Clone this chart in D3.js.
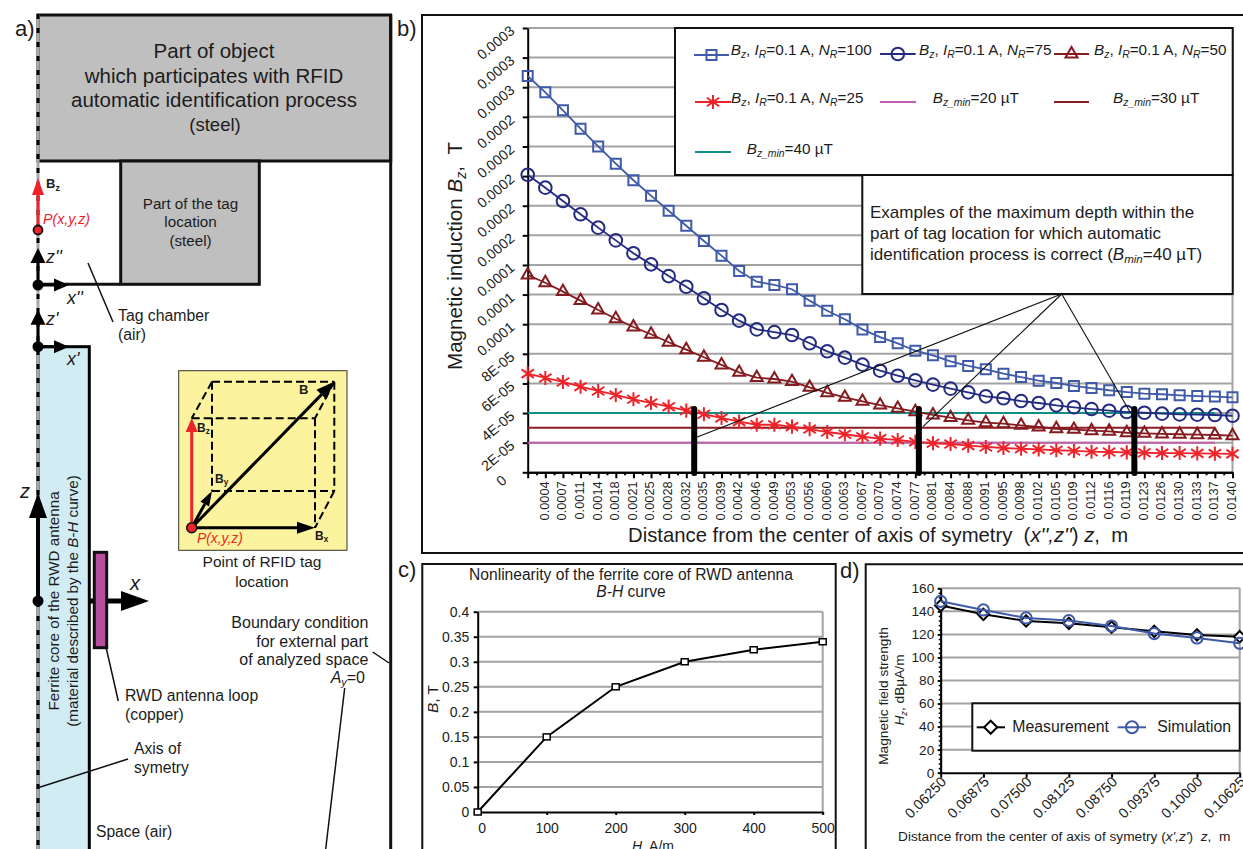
<!DOCTYPE html>
<html><head><meta charset="utf-8">
<script src="https://cdn.jsdelivr.net/npm/d3@7/dist/d3.min.js"></script>
<style>
html,body{margin:0;padding:0;background:#fff;overflow:hidden}
svg{display:block;font-family:"Liberation Sans",Arial,sans-serif;fill:#1c1c1c}
</style></head><body><svg id="c" width="1243" height="849"></svg>
<script>
// ---------- panel b data (values in units of 1e-5 T) ----------
const zLabels=["","0.0004","0.0007","0.0011","0.0014","0.0018","0.0021","0.0025","0.0028","0.0032","0.0035","0.0039","0.0042","0.0046","0.0049","0.0053","0.0056","0.0060","0.0063","0.0067","0.0070","0.0074","0.0077","0.0081","0.0084","0.0088","0.0091","0.0095","0.0098","0.0102","0.0105","0.0109","0.0112","0.0116","0.0119","0.0123","0.0126","0.0130","0.0133","0.0137","0.0140"];
const bTickLabels=["0","2E-05","4E-05","6E-05","8E-05","0.0001","0.0001","0.0001","0.0002","0.0002","0.0002","0.0002","0.0002","0.0003","0.0003","0.0003"];
const nr100=[26.76,25.66,24.44,23.2,22.0,20.84,19.72,18.68,17.66,16.65,15.62,14.63,13.59,12.87,12.65,12.36,11.59,10.91,10.33,9.65,9.13,8.71,8.21,7.9,7.49,7.18,6.95,6.66,6.43,6.19,6.03,5.83,5.69,5.54,5.42,5.31,5.27,5.2,5.15,5.11,5.06];
const nr75=[20.09,19.22,18.32,17.42,16.52,15.66,14.79,14.04,13.25,12.53,11.75,10.96,10.24,9.65,9.47,9.27,8.71,8.17,7.74,7.27,6.86,6.52,6.21,5.92,5.65,5.4,5.13,5.0,4.81,4.68,4.52,4.39,4.27,4.16,4.07,4.02,3.96,3.91,3.89,3.87,3.82];
const nr50=[13.32,12.8,12.2,11.59,10.96,10.37,9.81,9.32,8.78,8.28,7.77,7.25,6.75,6.39,6.3,6.12,5.74,5.37,5.06,4.79,4.54,4.32,4.09,3.87,3.69,3.51,3.35,3.28,3.17,3.06,2.94,2.9,2.81,2.77,2.67,2.63,2.59,2.57,2.54,2.52,2.47];
const nr25=[6.66,6.37,6.1,5.78,5.49,5.22,4.93,4.68,4.43,4.16,3.92,3.67,3.42,3.21,3.21,3.08,2.92,2.72,2.57,2.4,2.27,2.18,2.05,1.96,1.91,1.8,1.71,1.64,1.59,1.55,1.49,1.44,1.39,1.37,1.35,1.32,1.3,1.3,1.28,1.26,1.24];
const bzMin=[2,3,4];
const depthMarks=[9.45,22.2,34.43]; // category positions of the thick bars
// ---------- panel c data ----------
const hValues=[0,100,200,300,400,500];
const bValues=[0,0.15,0.25,0.3,0.324,0.34];
const cYTicks=[0,0.05,0.1,0.15,0.2,0.25,0.3,0.35,0.4];
// ---------- panel d data ----------
const dLabels=["0.06250","0.06875","0.07500","0.08125","0.08750","0.09375","0.10000","0.10625"];
const measurement=[145,137.4,131.7,129.6,126.2,122.7,119.5,118];
const simulation=[148.7,141.2,134.3,132,127.3,120.7,116.9,112.3];
const dYTicks=[0,20,40,60,80,100,120,140,160];

const svg=d3.select("#c");
const I="i",S="s",NB="\u00a0";
function rich(g,x,y,parts,o={}){
  const t=g.append("text").attr("x",x).attr("y",y).attr("font-size",o.size||14);
  if(o.anchor)t.attr("text-anchor",o.anchor);
  if(o.fill)t.style("fill",o.fill);
  if(o.bold)t.attr("font-weight","bold");
  if(o.italic)t.attr("font-style","italic");
  if(o.rot!==undefined)t.attr("transform",`rotate(${o.rot} ${x} ${y})`);
  let pend=0; const fs=o.size||14;
  (Array.isArray(parts)?parts:[parts]).forEach(p=>{
    const [txt,f]=Array.isArray(p)?p:[p,""];
    const ts=t.append("tspan").text(txt);
    let dy=pend; pend=0;
    if(f&&f.includes(I))ts.attr("font-style","italic");
    if(f&&f.includes(S)){const d=fs*0.2;dy+=d;pend=-d;ts.attr("font-size",fs*0.68);}
    if(dy)ts.attr("dy",dy);
  });
  return t;
}
function line(g,x1,y1,x2,y2,c="#111",w=1.5,dash){
  const l=g.append("line").attr("x1",x1).attr("y1",y1).attr("x2",x2).attr("y2",y2).attr("stroke",c).attr("stroke-width",w);
  if(dash)l.attr("stroke-dasharray",dash);return l;
}
function arrow(g,x1,y1,x2,y2,c,w,hl,hw){
  const a=Math.atan2(y2-y1,x2-x1),bx=x2-hl*Math.cos(a),by=y2-hl*Math.sin(a);
  line(g,x1,y1,bx,by,c,w);
  const nx=-Math.sin(a)*hw/2,ny=Math.cos(a)*hw/2;
  g.append("path").attr("d",`M${x2},${y2}L${bx+nx},${by+ny}L${bx-nx},${by-ny}Z`).style("fill",c);
}
function rect(g,x,y,w,h,fill,stroke,sw){
  return g.append("rect").attr("x",x).attr("y",y).attr("width",w).attr("height",h).attr("fill",fill).attr("stroke",stroke).attr("stroke-width",sw);
}
function styleAxis(a,w=2){
  a.select(".domain").attr("stroke","#000").attr("stroke-width",w);
  a.selectAll(".tick line").attr("stroke","#000").attr("stroke-width",w);
  a.selectAll("text").style("fill","#1c1c1c");
  a.attr("font-family",null);
}
const star={draw(ctx,size){const r=Math.sqrt(size)/2;
  ctx.moveTo(0,-r);ctx.lineTo(0,r);
  const dx=r*0.87,dy=r*0.6;
  ctx.moveTo(-dx,-dy);ctx.lineTo(dx,dy);ctx.moveTo(-dx,dy);ctx.lineTo(dx,-dy);}};
const diamond={draw(ctx,size){const r=Math.sqrt(size)/2;
  ctx.moveTo(0,-r);ctx.lineTo(r,0);ctx.lineTo(0,r);ctx.lineTo(-r,0);ctx.closePath();}};

// ---------- panel a ----------
const a=svg.append("g");
rich(a,15,36,"a)",{size:22});
rect(a,38,346.7,51.3,510,"#d2ecf4","#000",3);
rect(a,38,15,352.7,146,"#bfbfbf","#111",3);
rect(a,120.7,161,138.6,123.3,"#bfbfbf","#111",3);
line(a,390.7,15,390.7,849,"#111",3);
line(a,38,284.3,120,284.3,"#111",3);
// symmetry axis
line(a,38,14,38,849,"#a9a9a9",3);
line(a,38,14,38,849,"#000",3,"5 9");
// top text
["Part of object","which participates with RFID","automatic identification process"].forEach((t,i)=>rich(a,214,[58,83,107][i],t,{size:20.5,anchor:"middle"}));
rich(a,215,131,"(steel)",{size:18.5,anchor:"middle"});
["Part of the tag","location","(steel)"].forEach((t,i)=>rich(a,190.5,[209,227,246][i],t,{size:15.2,anchor:"middle"}));
// red point
arrow(a,38,230,38,178,"#ee2329",3,17,12);
a.append("circle").attr("cx",38).attr("cy",230).attr("r",4.5).attr("fill","#ee2329").attr("stroke","#111").attr("stroke-width",1.8);
rich(a,46,188,[["B",""],["z",S]],{size:13,bold:true});
rich(a,43,224,"P(x,y,z)",{size:14.2,italic:true,fill:"#ee2329"});
// coordinate systems
[[285,"z''","x''"],[346.7,"z'","x'"]].forEach(([y,zt,xt])=>{
  arrow(a,38,y,38,y-37,"#000",3,15,15);
  arrow(a,38,y,69,y,"#000",3,15,13);
  a.append("circle").attr("cx",38).attr("cy",y).attr("r",5.5).style("fill","#000");
  rich(a,46,y-22,zt,{size:18,italic:true});
  rich(a,67,y+18.5,xt,{size:18,italic:true});
});
line(a,88,263,113,322,"#111",1.5);
rich(a,118,321,"Tag chamber",{size:15.8});
rich(a,118,340,"(air)",{size:15.8});
// yellow cube
rect(a,178.7,370.7,168.3,179.6,"#fbf39e","#333",1);
const Px=191.7,Py=527.7,dashC="8 4";
[[212,381.7,334.3,381.7],[191.7,418.3,315,418.3],[212,381.7,191.7,418.3],[334.3,381.7,315,418.3],[212,381.7,212,491],[315,418.3,315,527.7],[334.3,381.7,334.3,491],[212,491,334.3,491],[334.3,491,315,527.7]]
 .forEach(s=>line(a,s[0],s[1],s[2],s[3],"#000",2,dashC));
arrow(a,Px,Py,334,381.7,"#000",3,18,14);
arrow(a,Px,Py,315,Py,"#000",3,18,12);
arrow(a,Px,Py,212,491,"#000",3,15,10);
arrow(a,Px,Py,Px,418,"#ee2329",3,14,12);
a.append("circle").attr("cx",Px).attr("cy",Py).attr("r",5).attr("fill","#ee2329").attr("stroke","#111").attr("stroke-width",1.5);
rich(a,299,394,"B",{size:13,bold:true});
rich(a,197,432,[["B",""],["z",S]],{size:12,bold:true});
rich(a,215,483,[["B",""],["y",S]],{size:12,bold:true});
rich(a,315,540,[["B",""],["x",S]],{size:12,bold:true});
rich(a,197,543,"P(x,y,z)",{size:13.8,italic:true,fill:"#ee2329"});
rich(a,262,567,"Point of RFID tag",{size:15.5,anchor:"middle"});
rich(a,262,587,"location",{size:15.5,anchor:"middle"});
// core texts
rich(a,58.5,601,"Ferrite core of the RWD antenna",{size:15.2,anchor:"middle",rot:-90});
rich(a,78,601,["(material described by the ",["B-H",I]," curve)"],{size:15.2,anchor:"middle",rot:-90});
// big z/x
arrow(a,38,601,38,493,"#000",4,25,18);
a.append("circle").attr("cx",38).attr("cy",601).attr("r",5.5).style("fill","#000");
rich(a,20,498,"z",{size:20,italic:true});
arrow(a,89,601,149,601,"#000",5,28,20);
rich(a,130,590,"x",{size:20,italic:true});
rect(a,94.3,552.3,12.4,95.4,"#b84f9e","#111",3);
line(a,106,647,118.3,701,"#111",1.5);
rich(a,125,701,"RWD antenna loop",{size:15.8});
rich(a,125,720,"(copper)",{size:15.8});
rich(a,134,754,"Axis of",{size:15.7});
rich(a,134,773,"symetry",{size:15.7});
line(a,128,759,38,787.7,"#111",1.5);
rich(a,96,836.7,"Space (air)",{size:15.6});
rich(a,368.3,627.7,"Boundary condition",{size:16,anchor:"end"});
rich(a,368.3,646.7,"for external part",{size:16,anchor:"end"});
rich(a,368.3,665,"of analyzed space",{size:16,anchor:"end"});
rich(a,365,682.7,[["A",I],["y",I+S],"=0"],{size:16,anchor:"end"});
line(a,372.7,652,389,663,"#111",1.5);
line(a,344.7,688,325.7,849,"#111",1.5);

// ---------- panel b ----------
const b=svg.append("g");
rich(b,397,36,"b)",{size:22});
b.append("path").attr("d","M1243,15H422V553H1243").attr("fill","none").attr("stroke","#111").attr("stroke-width",2);
const xB=d3.scaleLinear([0,zLabels.length-1],[527.7,1232.5]);
const yB=d3.scaleLinear([0,30],[472.3,28]);
const bGrid=b.append("g");
bGrid.selectAll("line").data(bTickLabels.slice(1)).join("line")
 .attr("x1",xB(0)).attr("x2",xB.range()[1]).attr("y1",(d,i)=>yB((i+1)*2)).attr("y2",(d,i)=>yB((i+1)*2))
 .attr("stroke","#a3a3a3").attr("stroke-width",2);
line(b,xB.range()[1],28,xB.range()[1],472,"#a3a3a3",2);
const ax=b.append("g").attr("transform","translate(0,472.3)")
 .call(d3.axisBottom(xB).tickValues(d3.range(0,41)).tickFormat(i=>zLabels[i]).tickSize(6).tickSizeOuter(0));
styleAxis(ax);
ax.selectAll("text").attr("transform","rotate(-90)").attr("text-anchor","end").attr("x",-9).attr("y",-1.5).attr("dy","0.34em").attr("font-size",12.8);
const axm=b.append("g").attr("transform","translate(0,472.3)")
 .call(d3.axisBottom(xB).tickValues(d3.range(0.5,40,1)).tickFormat("").tickSize(3).tickSizeOuter(0));
styleAxis(axm);
const ay=b.append("g").attr("transform","translate(527.7,0)")
 .call(d3.axisLeft(yB).tickValues(d3.range(0,32,2)).tickFormat(v=>bTickLabels[v/2]).tickSize(5).tickSizeOuter(0));
styleAxis(ay);
ay.selectAll("text").attr("text-anchor","end").attr("x",0).attr("dy",0).attr("font-size",14.3)
 .attr("transform",v=>`translate(${v===0?-20:-12},${v===0?9:4}) rotate(-40)`);
// constant lines
const minColors=["#bf5fa9","#8c1c22","#0f8f86"];
const lineB=d3.line().x((d,i)=>xB(i)).y(d=>yB(d));
bzMin.forEach((v,k)=>b.append("path").attr("d",lineB(zLabels.slice(0,40).map(()=>v))).attr("fill","none").attr("stroke",minColors[k]).attr("stroke-width",2));
const bSeries=[
 {v:nr100,c:"#3f5aa8",sym:d3.symbolSquare,size:100},
 {v:nr75,c:"#232a82",sym:d3.symbolCircle,size:125},
 {v:nr50,c:"#851a1f",sym:d3.symbolTriangle,size:62},
 {v:nr25,c:"#ee2329",sym:star,size:200}];
bSeries.forEach(s=>{
 b.append("path").attr("d",lineB(s.v)).attr("fill","none").attr("stroke",s.c).attr("stroke-width",1.8);
 b.append("g").selectAll("path").data(s.v).join("path")
  .attr("d",d3.symbol(s.sym,s.size)).attr("transform",(d,i)=>`translate(${xB(i)},${yB(d)})`)
  .attr("fill","none").attr("stroke",s.c).attr("stroke-width",2);
});
// thick bars
b.append("g").selectAll("line").data(depthMarks).join("line")
 .attr("x1",d=>xB(d)).attr("x2",d=>xB(d)).attr("y1",409).attr("y2",473)
 .attr("stroke","#000").attr("stroke-width",6).attr("stroke-linecap","round");
// legend boxes
rect(b,675,28,557.7,147,"#fff","#111",2);
rect(b,862.3,175,370.4,119,"#fff","#111",2);
function legSym(x1,x2,y,c,sym,size){
 line(b,x1,y,x2,y,c,2);
 if(sym)b.append("path").attr("d",d3.symbol(sym,size)).attr("transform",`translate(${(x1+x2)/2},${y})`).attr("fill","none").attr("stroke",c).attr("stroke-width",2);
}
const lg=n=>[["B",I],["z",I+S],", ",["I",I],["R",I+S],"=0.1 A, ",["N",I],["R",I+S],"="+n];
const lm=n=>[["B",I],["z_min",I+S],"="+n+" µT"];
const LS=15.3;
legSym(694,729,55,bSeries[0].c,bSeries[0].sym,100); rich(b,730.7,55,lg(100),{size:LS});
legSym(880,915.7,54,bSeries[1].c,bSeries[1].sym,125); rich(b,919,55,lg(75),{size:LS});
legSym(1054,1089,54,bSeries[2].c,bSeries[2].sym,62); rich(b,1094,55,lg(50),{size:LS});
legSym(695,731,102,bSeries[3].c,star,200); rich(b,731,103,lg(25),{size:LS});
legSym(880,916,102,minColors[0]); rich(b,932.7,103,lm(20),{size:LS});
legSym(1054,1089,102,minColors[1]); rich(b,1113,103,lm(30),{size:LS});
legSym(695,731,152,minColors[2]); rich(b,746.7,154,lm(40),{size:LS});
rich(b,870,218,"Examples of the maximum depth within the",{size:17});
rich(b,870,239,"part of tag location for which automatic",{size:17});
rich(b,870,260,["identification process is correct (",["B",I],["min",I+S],"=40"+NB+"µT)"],{size:17});
// callouts
[[696.7,437.3],[923,426.7],[1130,412]].forEach(p=>line(b,1061.7,294,p[0],p[1],"#111",1.1));
// titles
rich(b,461.5,256,[ "Magnetic induction ",["B",I],["z",I+S],","+NB+NB+"T"],{size:20.6,anchor:"middle",rot:-90});
rich(b,628,542,["Distance from the center of axis of symetry"+NB+NB+"(",["x'',z''",I],") ",["z",I],","+NB+NB+"m"],{size:20.3});

// ---------- panel c ----------
const c=svg.append("g");
rich(c,398,577,"c)",{size:22});
c.append("path").attr("d","M422.3,849V564H835.7V849").attr("fill","none").attr("stroke","#111").attr("stroke-width",2);
const xC=d3.scaleLinear([0,500],[477.7,822.7]);
const yC=d3.scaleLinear([0,0.4],[812,611.7]);
c.append("g").selectAll("line").data(cYTicks.slice(1)).join("line")
 .attr("x1",xC(0)).attr("x2",xC(500)).attr("y1",d=>yC(d)).attr("y2",d=>yC(d)).attr("stroke","#a3a3a3").attr("stroke-width",2);
line(c,xC(500),611.7,xC(500),812,"#a3a3a3",2);
const acx=c.append("g").attr("transform","translate(0,812)").call(d3.axisBottom(xC).tickValues(hValues).tickSize(3).tickSizeOuter(0));
styleAxis(acx); acx.selectAll("text").attr("font-size",14).attr("y",11).attr("dx",v=>v===0?4:0);
const acy=c.append("g").attr("transform","translate(477.7,0)").call(d3.axisLeft(yC).tickValues(cYTicks).tickFormat(d=>String(d)).tickSize(4).tickSizeOuter(0));
styleAxis(acy); acy.selectAll("text").attr("font-size",14).attr("x",-8.5);
c.append("path").attr("d",d3.line().x((d,i)=>xC(hValues[i])).y(d=>yC(d))(bValues)).attr("fill","none").attr("stroke","#000").attr("stroke-width",2);
c.append("g").selectAll("rect").data(bValues).join("rect")
 .attr("x",(d,i)=>xC(hValues[i])-3.5).attr("y",d=>yC(d)-3).attr("width",7).attr("height",6)
 .attr("fill","#fff").attr("stroke","#000").attr("stroke-width",1.5);
rich(c,631,580,"Nonlinearity of the ferrite core of RWD antenna",{size:15.6,anchor:"middle"});
rich(c,631,597,[["B-H",I]," curve"],{size:15.6,anchor:"middle"});
rich(c,438,699,[["B",I],", T"],{size:15.5,anchor:"middle",rot:-90});
rich(c,653,851,[["H",I],", A/m"],{size:14,anchor:"middle"});

// ---------- panel d ----------
const d=svg.append("g");
rich(d,840,578,"d)",{size:22});
d.append("path").attr("d","M865.7,849V564.3H1243").attr("fill","none").attr("stroke","#111").attr("stroke-width",2);
const xD=d3.scalePoint(dLabels,[940.7,1239.7]);
const yD=d3.scaleLinear([0,160],[772.7,588.3]);
d.append("g").selectAll("line").data(dYTicks.slice(1)).join("line")
 .attr("x1",940.7).attr("x2",1239.7).attr("y1",v=>yD(v)).attr("y2",v=>yD(v)).attr("stroke","#a3a3a3").attr("stroke-width",2);
line(d,1239.7,588.3,1239.7,772.7,"#a3a3a3",2);
const adx=d.append("g").attr("transform","translate(0,772.7)").call(d3.axisBottom(xD).tickSize(5).tickSizeOuter(0));
styleAxis(adx);
adx.selectAll("text").attr("text-anchor","end").attr("font-size",14.3).attr("x",0).attr("y",0).attr("dy",0).attr("transform","translate(6,10) rotate(-45)");
const ady=d.append("g").attr("transform","translate(940.7,0)").call(d3.axisLeft(yD).tickValues(dYTicks).tickSize(3).tickSizeOuter(0));
styleAxis(ady); ady.selectAll("text").attr("font-size",13.6).attr("x",-6.5);
const ady2=d.append("g").attr("transform","translate(940.7,0)").call(d3.axisLeft(yD).tickValues(d3.range(0,161,4)).tickFormat("").tickSize(2).tickSizeOuter(0));
styleAxis(ady2,1.5);
const lineD=d3.line().x((v,i)=>xD(dLabels[i])).y(v=>yD(v));
d.append("path").attr("d",lineD(measurement)).attr("fill","none").attr("stroke","#000").attr("stroke-width",2);
d.append("g").selectAll("path").data(measurement).join("path").attr("d",d3.symbol(diamond,130))
 .attr("transform",(v,i)=>`translate(${xD(dLabels[i])},${yD(v)})`).attr("fill","#fff").attr("stroke","#000").attr("stroke-width",2);
d.append("path").attr("d",lineD(simulation)).attr("fill","none").attr("stroke","#3f5aa8").attr("stroke-width",2);
d.append("g").selectAll("circle").data(simulation).join("circle").attr("r",5.6)
 .attr("cx",(v,i)=>xD(dLabels[i])).attr("cy",v=>yD(v)).attr("fill","none").attr("stroke","#3f5aa8").attr("stroke-width",2);
rect(d,972.3,703.3,267.4,47.4,"#fff","#111",2);
line(d,976.7,727.3,1005,727.3,"#000",2);
d.append("path").attr("d",d3.symbol(diamond,170)).attr("transform","translate(990.7,727.3)").attr("fill","#fff").attr("stroke","#000").attr("stroke-width",2);
line(d,1117.7,727.3,1146,727.3,"#3f5aa8",2);
d.append("circle").attr("cx",1132).attr("cy",727.3).attr("r",6).attr("fill","none").attr("stroke","#3f5aa8").attr("stroke-width",2);
rich(d,1012.3,731.7,"Measurement",{size:15.8});
rich(d,1157.3,731.7,"Simulation",{size:15.8});
rich(d,888,696,"Magnetic field strength",{size:13.7,anchor:"middle",rot:-90});
rich(d,904,690,[["H",I],["z",I+S],", dBµA/m"],{size:13.7,anchor:"middle",rot:-90});
rich(d,898,841,["Distance from the center of axis of symetry (",["x',z'",I],")"+NB+NB,["z",I],","+NB+NB+"m"],{size:13.7});
</script></body></html>
